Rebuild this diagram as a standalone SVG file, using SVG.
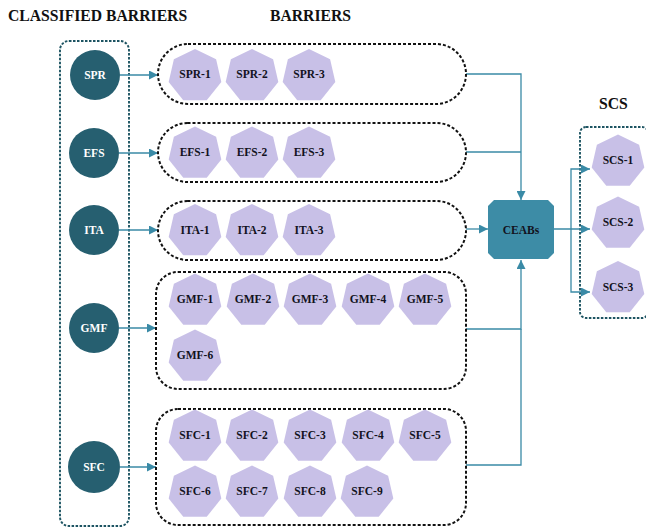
<svg xmlns="http://www.w3.org/2000/svg" xmlns:xlink="http://www.w3.org/1999/xlink" width="646" height="528" viewBox="0 0 646 528">
  <style>
    .title { font-family: "Liberation Serif", "Times New Roman", serif; font-weight: bold; font-size: 15.7px; fill: #111; }
    .hl { font-family: "Liberation Serif", "Times New Roman", serif; font-weight: bold; font-size: 11.5px; fill: #121220; text-anchor: middle; }
    .cl { font-family: "Liberation Serif", "Times New Roman", serif; font-weight: bold; font-size: 11.5px; fill: #ffffff; text-anchor: middle; }
    .circ { fill: #265f70; }
    .hept { fill: #c8c0e7; }
    .group { fill: none; stroke: #111; stroke-width: 2; stroke-dasharray: 3 2; }
    .frame { fill: none; stroke: #1d5462; stroke-width: 1.9; stroke-dasharray: 2.5 1.5; }
    .conn { fill: none; stroke: #3a8aa6; stroke-width: 1.3; }
  </style>
  <defs>
    <polygon id="hept" points="0,-27 21.11,-16.83 26.32,6.01 11.72,24.33 -11.72,24.33 -26.32,6.01 -21.11,-16.83"/>
    <marker id="arr" viewBox="0 0 10 10" refX="10" refY="5" markerWidth="9" markerHeight="9" markerUnits="userSpaceOnUse" orient="auto">
      <path d="M0,0 L10,5 L0,10 z" fill="#3a8aa6"/>
    </marker>
  </defs>

  <rect width="646" height="528" fill="#ffffff"/>

  <!-- headings -->
  <text class="title" x="8" y="21">CLASSIFIED BARRIERS</text>
  <text class="title" x="270" y="21">BARRIERS</text>
  <text class="title" x="599" y="109">SCS</text>

  <!-- outer frames -->
  <rect class="frame" x="60" y="41" width="69" height="485" rx="9"/>
  <rect class="frame" x="580" y="127" width="68" height="191" rx="6"/>

  <!-- connectors -->
  <g id="connectors">
    <path class="conn" d="M120,75 H158" marker-end="url(#arr)"/>
    <path class="conn" d="M119,153 H158" marker-end="url(#arr)"/>
    <path class="conn" d="M119,230 H158" marker-end="url(#arr)"/>
    <path class="conn" d="M119,328 H156" marker-end="url(#arr)"/>
    <path class="conn" d="M120,467 H156" marker-end="url(#arr)"/>
    <path class="conn" d="M466,74 H521 V200" marker-end="url(#arr)"/>
    <path class="conn" d="M466,152 H521"/>
    <path class="conn" d="M466,229 H488" marker-end="url(#arr)"/>
    <path class="conn" d="M466,329 H521 V260" marker-end="url(#arr)"/>
    <path class="conn" d="M466,465 H521 V329"/>
    <path class="conn" d="M554,229 H590" marker-end="url(#arr)"/>
    <path class="conn" d="M571,229 V169 H590" marker-end="url(#arr)"/>
    <path class="conn" d="M571,229 V292 H590" marker-end="url(#arr)"/>
  </g>

  <!-- classified barriers -->
  <g id="SPR"><circle class="circ" cx="95" cy="75" r="25"/><text class="cl" x="95" y="79">SPR</text></g>
  <g id="EFS"><circle class="circ" cx="94" cy="153" r="25"/><text class="cl" x="94" y="157">EFS</text></g>
  <g id="ITA"><circle class="circ" cx="94" cy="230" r="25"/><text class="cl" x="94" y="234">ITA</text></g>
  <g id="GMF"><circle class="circ" cx="94" cy="328" r="25"/><text class="cl" x="94" y="332">GMF</text></g>
  <g id="SFC"><circle class="circ" cx="94" cy="467" r="26"/><text class="cl" x="94" y="471">SFC</text></g>

  <!-- barrier groups -->
  <g id="SPR-group">
    <rect class="group" x="158" y="44" width="308" height="60" rx="30"/>
    <use href="#hept" class="hept" x="195" y="76"/><text class="hl" x="195" y="78">SPR-1</text>
    <use href="#hept" class="hept" x="252" y="76"/><text class="hl" x="252" y="78">SPR-2</text>
    <use href="#hept" class="hept" x="309" y="76"/><text class="hl" x="309" y="78">SPR-3</text>
  </g>
  <g id="EFS-group">
    <rect class="group" x="158" y="123" width="308" height="59" rx="29.5"/>
    <use href="#hept" class="hept" x="195" y="153.5"/><text class="hl" x="195" y="156">EFS-1</text>
    <use href="#hept" class="hept" x="252" y="153.5"/><text class="hl" x="252" y="156">EFS-2</text>
    <use href="#hept" class="hept" x="309" y="153.5"/><text class="hl" x="309" y="156">EFS-3</text>
  </g>
  <g id="ITA-group">
    <rect class="group" x="158" y="201" width="308" height="59" rx="29.5"/>
    <use href="#hept" class="hept" x="195" y="231"/><text class="hl" x="195" y="233.5">ITA-1</text>
    <use href="#hept" class="hept" x="252" y="231"/><text class="hl" x="252" y="233.5">ITA-2</text>
    <use href="#hept" class="hept" x="309" y="231"/><text class="hl" x="309" y="233.5">ITA-3</text>
  </g>
  <g id="GMF-group">
    <rect class="group" x="156" y="272" width="310" height="117" rx="22"/>
    <use href="#hept" class="hept" x="195" y="300.5"/><text class="hl" x="195" y="303">GMF-1</text>
    <use href="#hept" class="hept" x="253" y="300.5"/><text class="hl" x="253" y="303">GMF-2</text>
    <use href="#hept" class="hept" x="310" y="300.5"/><text class="hl" x="310" y="303">GMF-3</text>
    <use href="#hept" class="hept" x="368" y="300.5"/><text class="hl" x="368" y="303">GMF-4</text>
    <use href="#hept" class="hept" x="425" y="300.5"/><text class="hl" x="425" y="303">GMF-5</text>
    <use href="#hept" class="hept" x="195" y="356.5"/><text class="hl" x="195" y="359">GMF-6</text>
  </g>
  <g id="SFC-group">
    <rect class="group" x="156" y="409" width="310" height="116" rx="22"/>
    <use href="#hept" class="hept" x="195" y="436.5"/><text class="hl" x="195" y="439">SFC-1</text>
    <use href="#hept" class="hept" x="252" y="436.5"/><text class="hl" x="252" y="439">SFC-2</text>
    <use href="#hept" class="hept" x="310" y="436.5"/><text class="hl" x="310" y="439">SFC-3</text>
    <use href="#hept" class="hept" x="368" y="436.5"/><text class="hl" x="368" y="439">SFC-4</text>
    <use href="#hept" class="hept" x="425" y="436.5"/><text class="hl" x="425" y="439">SFC-5</text>
    <use href="#hept" class="hept" x="195" y="492.5"/><text class="hl" x="195" y="495">SFC-6</text>
    <use href="#hept" class="hept" x="252" y="492.5"/><text class="hl" x="252" y="495">SFC-7</text>
    <use href="#hept" class="hept" x="310" y="492.5"/><text class="hl" x="310" y="495">SFC-8</text>
    <use href="#hept" class="hept" x="367" y="492.5"/><text class="hl" x="367" y="495">SFC-9</text>
  </g>

  <!-- aggregate node -->
  <g id="CEABs">
    <polygon points="494,200 548,200 554,206 554,253 548,259 494,259 488,253 488,206" fill="#3d8ca6"/>
    <text class="hl" x="521" y="233.5" font-size="12">CEABs</text>
  </g>

  <!-- outcomes -->
  <g id="SCS-1"><use href="#hept" class="hept" x="618" y="161.5"/><text class="hl" x="618" y="164">SCS-1</text></g>
  <g id="SCS-2"><use href="#hept" class="hept" x="618" y="223.5"/><text class="hl" x="618" y="226">SCS-2</text></g>
  <g id="SCS-3"><use href="#hept" class="hept" x="618" y="288"/><text class="hl" x="618" y="290.5">SCS-3</text></g>
</svg>
